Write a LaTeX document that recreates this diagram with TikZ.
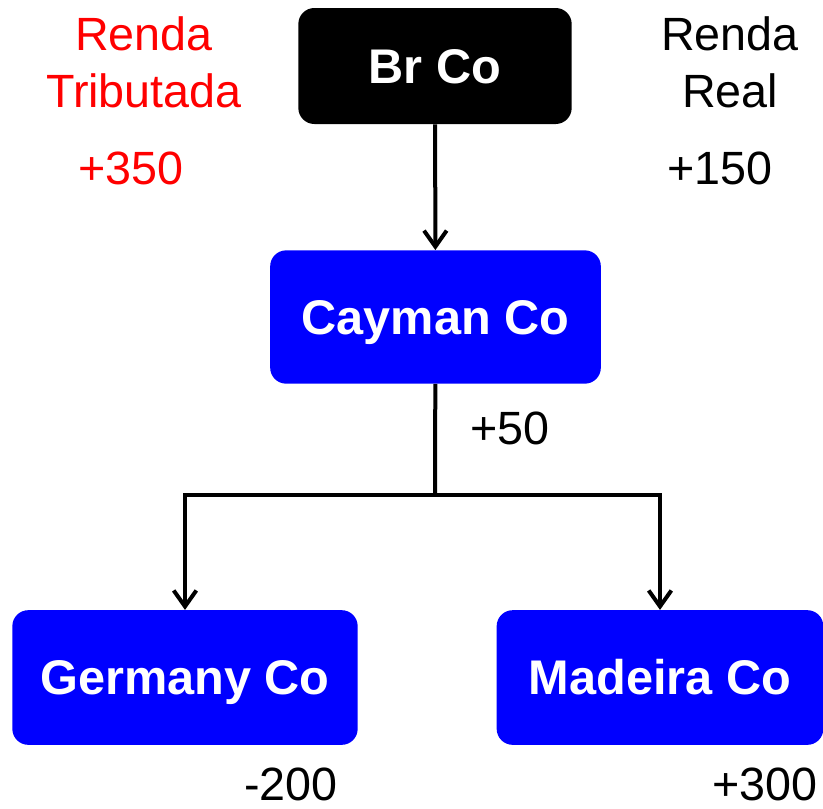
\documentclass[tikz,border=0pt]{standalone}
\usepackage{fontspec}
\setmainfont{Liberation Sans}
\usetikzlibrary{arrows.meta}
\begin{document}
\begin{tikzpicture}
[x=0.75pt, y=-0.75pt,
 caixa/.style={rounded corners=12pt, fill=blue, text=white, text height=26pt, text depth=0pt, font=\fontsize{36.5}{42}\selectfont\bfseries},
 valor/.style={font=\fontsize{35}{43}\selectfont, align=center},
 seta/.style={line width=3pt, -{Straight Barb[length=12pt, width=17pt, line width=3pt]}}]
\useasboundingbox (0,0) rectangle (823,808);
\node [caixa, fill=black, minimum width=205pt, minimum height=87pt] (brco) at (435,66) {Br Co};
\node [caixa, minimum width=248pt, minimum height=100pt] (cayman) at (435.5,317) {Cayman Co};
\node [caixa, minimum width=259pt, minimum height=101pt] (germany) at (185,677.5) {Germany Co};
\node [caixa, minimum width=245pt, minimum height=101pt] (madeira) at (660,677.5) {Madeira Co};
\coordinate (ramo) at (435,495);
\draw [seta] (brco) -- (cayman);
\draw [line width=3pt] (cayman) -- (ramo);
\draw [seta] (ramo) -| (germany);
\draw [seta] (ramo) -| (madeira);
\node [valor, text=red] (tributada) at (144,62) {Renda\\Tributada};
\node [valor, text=red] (v350) at (131,168) {+350};
\node [valor] (real) at (730,62) {Renda\\Real};
\node [valor] (v150) at (720,168) {+150};
\node [valor] (v50) at (510,428) {+50};
\node [valor] (v200) at (291,784) {-200};
\node [valor] (v300) at (765,784) {+300};
\end{tikzpicture}
\end{document}
